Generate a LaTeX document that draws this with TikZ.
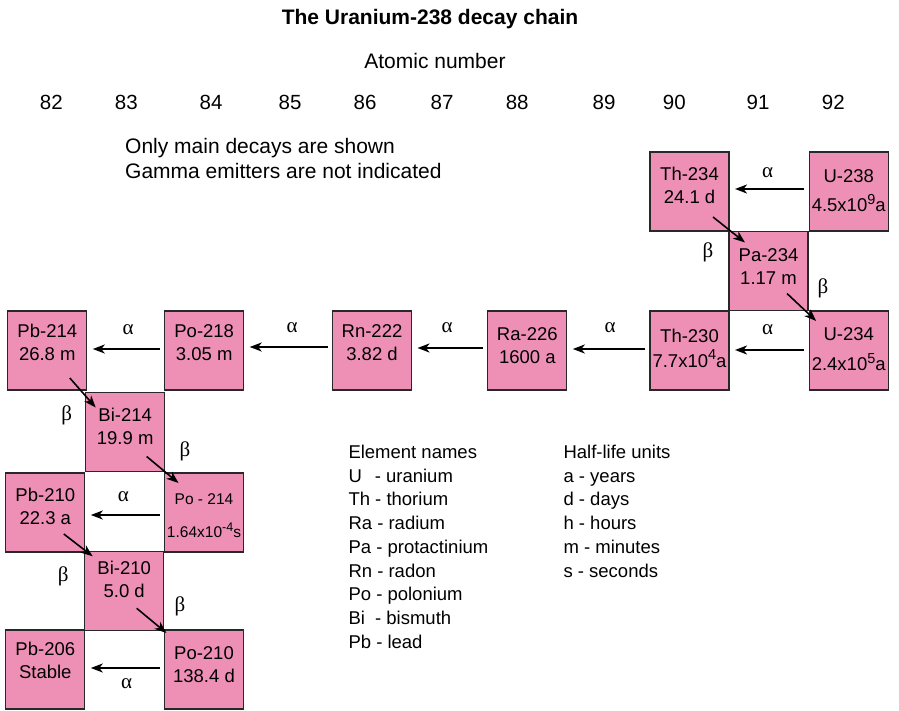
\documentclass[tikz,border=0pt]{standalone}
\usepackage{fontspec}
\setmainfont{Liberation Sans}
\newfontfamily\greekfont{Liberation Serif}
\usetikzlibrary{arrows.meta}
\definecolor{boxpink}{RGB}{238,144,181}
\definecolor{boxline}{RGB}{40,40,40}
\newcommand{\supx}[1]{\raisebox{0.42em}{\fontsize{14.5}{14.5}\selectfont #1}}
\tikzset{
  iso/.style={draw=boxline, line width=1.1pt, fill=boxpink, minimum width=79pt, minimum height=79pt, inner sep=0pt, outer sep=0pt},
  isotext/.style={align=center, inner sep=0pt, font=\fontsize{18.5}{23}\selectfont},
  arr/.style={line width=1.6pt, -{Stealth[length=12pt,width=9pt,inset=3.5pt]}},
  alphaarrow/.style={arr, line width=1.9pt, shorten <=5pt, shorten >=6pt},
  glabel/.style={font=\greekfont\fontsize{21}{21}\selectfont, inner sep=0pt},
  hdr/.style={font=\fontsize{21}{25}\selectfont, inner sep=0pt},
  num/.style={font=\fontsize{20.5}{24}\selectfont, inner sep=0pt, anchor=base},
  leg/.style={font=\fontsize{18.5}{23}\selectfont, inner sep=0pt, anchor=base west},
}
\begin{document}
\begin{tikzpicture}[x=1pt,y=-1pt]
\useasboundingbox (0,0) rectangle (899,711);

% headers
\node[font=\bfseries\fontsize{21}{25}\selectfont, inner sep=0pt, anchor=base] (title) at (430,24.5) {The Uranium-238 decay chain};
\node[hdr, anchor=base] (atomic) at (435,68.5) {Atomic number};
\foreach \n/\x in {82/51.3,83/126.3,84/211,85/290,86/365,87/442,88/517.2,89/604,90/674.3,91/758,92/833.3}
  \node[num] (z\n) at (\x,110) {\n};
\node[hdr, anchor=base west] (note1) at (125,153.5) {Only main decays are shown};
\node[hdr, anchor=base west] (note2) at (125,178.5) {Gamma emitters are not indicated};

% boxes
\node[iso] (Th234) at (689.5,191.5) {};
\node[iso] (U238)  at (848.7,191.5) {};
\node[iso] (Pa234) at (768.5,271) {};
\node[iso] (Th230) at (689.5,350.5) {};
\node[iso] (U234)  at (848.7,350.5) {};
\node[iso] (Ra226) at (527.3,350.5) {};
\node[iso] (Rn222) at (372,350.5) {};
\node[iso] (Po218) at (204.2,350.5) {};
\node[iso] (Pb214) at (47.3,350.5) {};
\node[iso] (Bi214) at (125.2,432) {};
\node[iso] (Pb210) at (45.3,512.5) {};
\node[iso] (Po214) at (204,512.5) {};
\node[iso] (Bi210) at (124.2,590.8) {};
\node[iso] (Pb206) at (45.3,669.5) {};
\node[iso] (Po210) at (204,669.5) {};

% box texts
\node[isotext] (tTh234) at ([yshift=6.5pt]Th234.center) {Th-234\\24.1 d};
\node[isotext] (tU238)  at ([yshift=0.5pt]U238.center) {U-238\\[6pt]4.5x10\supx{9}a};
\node[isotext] (tPa234) at ([yshift=4.5pt]Pa234.center) {Pa-234\\1.17 m};
\node[isotext] (tTh230) at ([yshift=2pt]Th230.center) {Th-230\\[2pt]7.7x10\supx{4}a};
\node[isotext] (tU234)  at ([yshift=1pt]U234.center) {U-234\\[7pt]2.4x10\supx{5}a};
\node[isotext] (tRa226) at ([yshift=5pt]Ra226.center) {Ra-226\\1600 a};
\node[isotext] (tRn222) at ([yshift=8pt]Rn222.center) {Rn-222\\3.82 d};
\node[isotext] (tPo218) at ([yshift=8pt]Po218.center) {Po-218\\3.05 m};
\node[isotext] (tPb214) at ([yshift=8pt]Pb214.center) {Pb-214\\26.8 m};
\node[isotext] (tBi214) at ([yshift=6pt]Bi214.center) {Bi-214\\19.9 m};
\node[isotext] (tPb210) at ([yshift=6.5pt]Pb210.center) {Pb-210\\22.3 a};
\node[isotext, font=\fontsize{15.5}{19}\selectfont] (tPo214) at ([yshift=-3.5pt]Po214.center) {Po - 214\\[14pt]1.64x10\raisebox{0.42em}{\fontsize{12.5}{12.5}\selectfont -4}s};
\node[isotext] (tBi210) at ([yshift=11pt]Bi210.center) {Bi-210\\5.0 d};
\node[isotext] (tPb206) at ([yshift=9pt]Pb206.center) {Pb-206\\Stable};
\node[isotext] (tPo210) at ([yshift=4.5pt]Po210.center) {Po-210\\138.4 d};

% alpha decays
\draw[alphaarrow] ([yshift=2.5pt]U238.west) -- ([yshift=2.5pt]Th234.east);
\draw[alphaarrow] ([yshift=0.5pt]U234.west) -- ([yshift=0.5pt]Th230.east);
\draw[alphaarrow] ([yshift=1.5pt]Th230.west) -- ([yshift=1.5pt]Ra226.east);
\draw[alphaarrow] ([yshift=2.5pt]Ra226.west) -- ([yshift=2.5pt]Rn222.east);
\draw[alphaarrow] ([yshift=3.5pt]Rn222.west) -- ([yshift=3.5pt]Po218.east);
\draw[alphaarrow] ([yshift=1.5pt]Po218.west) -- ([yshift=1.5pt]Pb214.east);
\draw[alphaarrow] ([yshift=-2.5pt]Po214.west) -- ([yshift=-2.5pt]Pb210.east);
\draw[alphaarrow] ([yshift=1.5pt]Po210.west) -- ([yshift=1.5pt]Pb206.east);

% beta decays
\draw[arr] ([shift={(-16,-14)}]Th234.south east) -- ([shift={(16,11)}]Pa234.north west);
\draw[arr] ([shift={(-21,-17)}]Pa234.south east) -- ([shift={(7,10)}]U234.north west);
\draw[arr] ([shift={(-17,-12)}]Pb214.south east) -- ([shift={(10,15)}]Bi214.north west);
\draw[arr] ([shift={(-18,-15)}]Bi214.south east) -- ([shift={(14,10)}]Po214.north west);
\draw[arr] ([shift={(-21,-18)}]Pb210.south east) -- ([shift={(8,5)}]Bi210.north west);
\draw[arr] ([shift={(-27,-22)}]Bi210.south east) -- ([shift={(2,3)}]Po210.north west);

% alpha labels
\node[glabel] (a1) at (767.7,173) {α};
\node[glabel] (a2) at (767.7,330) {α};
\node[glabel] (a3) at (610,328) {α};
\node[glabel] (a4) at (447,328) {α};
\node[glabel] (a5) at (292,328) {α};
\node[glabel] (a6) at (128,330) {α};
\node[glabel] (a7) at (123.3,496.7) {α};
\node[glabel] (a8) at (126.7,683.3) {α};
% beta labels
\node[glabel] (b1) at (708,252.5) {β};
\node[glabel] (b2) at (823,288) {β};
\node[glabel] (b3) at (66.7,415) {β};
\node[glabel] (b4) at (185,451.7) {β};
\node[glabel] (b5) at (63.3,576.7) {β};
\node[glabel] (b6) at (180,606.7) {β};

% legend
\node[leg] (e0) at (348.3,458.3) {Element names};
\node[leg] (e1) at (348.3,482.05) {U\hspace{0.7em}- uranium};
\node[leg] (e2) at (348.3,505.8) {Th - thorium};
\node[leg] (e3) at (348.3,529.55) {Ra - radium};
\node[leg] (e4) at (348.3,553.3) {Pa - protactinium};
\node[leg] (e5) at (348.3,577.05) {Rn - radon};
\node[leg] (e6) at (348.3,600.8) {Po - polonium};
\node[leg] (e7) at (348.3,624.55) {Bi\hspace{0.55em}- bismuth};
\node[leg] (e8) at (348.3,648.3) {Pb - lead};
\node[leg] (h0) at (563.3,458.3) {Half-life units};
\node[leg] (h1) at (563.3,482.05) {a - years};
\node[leg] (h2) at (563.3,505.8) {d - days};
\node[leg] (h3) at (563.3,529.55) {h - hours};
\node[leg] (h4) at (563.3,553.3) {m - minutes};
\node[leg] (h5) at (563.3,577.05) {s - seconds};
\end{tikzpicture}
\end{document}
